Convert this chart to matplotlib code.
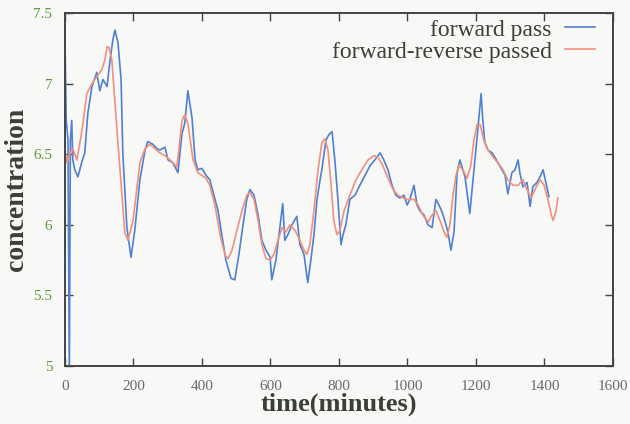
#!/usr/bin/env python3
# -*- coding: UTF-8 -*-
""" forward / forward-reverse filtered concentration plot """

import matplotlib
matplotlib.use("Agg")
import matplotlib.pyplot as plt
from matplotlib.ticker import FixedLocator, FixedFormatter

# forward pass (blue)
fwd_t = [1, 4, 9, 13, 16, 20, 23, 29, 38, 50, 58, 67, 79, 93, 102, 111, 123,
         131, 140, 146, 155, 164, 169, 181, 193, 204, 219, 234, 242, 257, 269,
         277, 292, 301, 315, 330, 342, 350, 359, 371, 380, 388, 400, 412, 423,
         435, 447, 458, 470, 485, 496, 508, 520, 531, 540, 552, 564, 575, 587,
         599, 604, 616, 625, 636, 642, 651, 663, 677, 686, 698, 709, 718, 727,
         736, 745, 750, 762, 771, 780, 788, 797, 806, 812, 820, 832, 847, 861,
         876, 891, 905, 920, 931, 943, 955, 966, 978, 990, 999, 1007, 1019,
         1028, 1036, 1048, 1060, 1072, 1083, 1092, 1101, 1109, 1118, 1127,
         1136, 1145, 1153, 1168, 1182, 1197, 1206, 1215, 1220, 1226, 1235,
         1247, 1255, 1264, 1276, 1285, 1293, 1305, 1314, 1323, 1328, 1337,
         1349, 1358, 1366, 1378, 1387, 1396, 1404, 1413]
fwd_v = [7.20, 6.74, 6.60, 4.90, 6.60, 6.74, 6.46, 6.39, 6.34, 6.45, 6.51,
         6.79, 6.98, 7.08, 6.95, 7.03, 6.98, 7.15, 7.31, 7.38, 7.29, 7.03,
         6.51, 5.98, 5.77, 5.96, 6.32, 6.53, 6.59, 6.57, 6.54, 6.53, 6.55,
         6.46, 6.44, 6.37, 6.65, 6.72, 6.95, 6.76, 6.46, 6.39, 6.40, 6.35,
         6.32, 6.21, 6.10, 5.93, 5.75, 5.62, 5.61, 5.79, 6.00, 6.18, 6.25,
         6.21, 6.07, 5.89, 5.82, 5.77, 5.61, 5.75, 5.93, 6.15, 5.89, 5.93,
         6.00, 6.06, 5.86, 5.79, 5.59, 5.75, 5.93, 6.18, 6.32, 6.39, 6.60,
         6.64, 6.66, 6.46, 6.18, 5.86, 5.93, 6.00, 6.18, 6.21, 6.28, 6.35,
         6.42, 6.46, 6.51, 6.46, 6.39, 6.28, 6.21, 6.19, 6.21, 6.14, 6.18,
         6.28, 6.14, 6.10, 6.07, 6.00, 5.98, 6.18, 6.14, 6.09, 6.03, 5.95,
         5.82, 5.95, 6.37, 6.46, 6.34, 6.08, 6.46, 6.69, 6.93, 6.74, 6.58,
         6.53, 6.51, 6.48, 6.44, 6.39, 6.35, 6.22, 6.37, 6.39, 6.46, 6.37,
         6.27, 6.30, 6.13, 6.27, 6.30, 6.34, 6.39, 6.30, 6.20]

# forward-reverse pass (red)
fr_t = [0, 6, 15, 23, 35, 50, 64, 79, 93, 108, 117, 123, 128, 137, 152, 166,
        175, 184, 199, 219, 234, 248, 263, 277, 292, 307, 327, 342, 350, 359,
        374, 388, 400, 412, 423, 438, 453, 467, 476, 488, 502, 517, 531, 540,
        552, 564, 575, 587, 599, 610, 622, 634, 645, 657, 672, 686, 698, 707,
        715, 727, 739, 750, 759, 768, 777, 785, 794, 803, 815, 832, 850, 867,
        885, 902, 914, 928, 943, 958, 972, 987, 1001, 1019, 1031, 1045, 1060,
        1072, 1083, 1095, 1107, 1115, 1124, 1133, 1142, 1150, 1162, 1174,
        1185, 1194, 1203, 1212, 1223, 1235, 1250, 1264, 1279, 1293, 1308,
        1323, 1337, 1349, 1361, 1372, 1387, 1399, 1410, 1419, 1425, 1434, 1439]
fr_v = [6.53, 6.44, 6.51, 6.54, 6.46, 6.67, 6.93, 7.00, 7.05, 7.10, 7.17,
        7.26, 7.26, 7.17, 6.67, 6.23, 5.94, 5.89, 6.03, 6.44, 6.54, 6.57,
        6.54, 6.51, 6.49, 6.46, 6.41, 6.74, 6.78, 6.72, 6.46, 6.37, 6.35,
        6.33, 6.28, 6.14, 5.93, 5.79, 5.76, 5.82, 5.96, 6.10, 6.21, 6.23,
        6.18, 6.03, 5.86, 5.76, 5.75, 5.79, 5.89, 5.98, 5.95, 6.00, 5.96,
        5.89, 5.82, 5.79, 5.86, 6.10, 6.39, 6.58, 6.61, 6.53, 6.28, 6.03,
        5.93, 5.96, 6.10, 6.21, 6.32, 6.39, 6.46, 6.49, 6.48, 6.42, 6.33,
        6.25, 6.21, 6.19, 6.18, 6.18, 6.14, 6.07, 6.02, 6.07, 6.10, 6.03,
        5.95, 5.91, 6.00, 6.21, 6.35, 6.42, 6.39, 6.33, 6.42, 6.60, 6.71,
        6.71, 6.60, 6.53, 6.48, 6.44, 6.39, 6.32, 6.28, 6.28, 6.32, 6.25,
        6.19, 6.25, 6.32, 6.28, 6.18, 6.08, 6.03, 6.10, 6.19]

x_ticks = [0, 200, 400, 600, 800, 1000, 1200, 1400, 1600]
y_ticks = [5, 5.5, 6, 6.5, 7, 7.5]
y_labels = ["5", "5.5", "6", "6.5", "7", "7.5"]

serif = ["Liberation Serif", "DejaVu Serif"]
paper = "#f8f8f6"
ink = "#3b3f3a"

fig = plt.figure(figsize=(6.3, 4.24), dpi=100, facecolor=paper)
ax = fig.add_axes([0.103, 0.137, 0.870, 0.832], facecolor=paper)

ax.plot(fwd_t, fwd_v, color="#4f80d4", lw=1.2, label="forward pass")
ax.plot(fr_t, fr_v, color="#f2907e", lw=1.2, label="forward-reverse passed")

ax.set_xlim(0, 1600)
ax.set_ylim(5, 7.5)
ax.xaxis.set_major_locator(FixedLocator(x_ticks))
ax.yaxis.set_major_locator(FixedLocator(y_ticks))
ax.yaxis.set_major_formatter(FixedFormatter(y_labels))
ax.tick_params(direction="in", length=6, width=1, color="#444444",
               top=True, right=True, labelsize=11)
ax.tick_params(axis="x", pad=10)
ax.tick_params(axis="y", pad=9)
for lab in ax.get_xticklabels():
    lab.set_family(serif)
    lab.set_color("#6a6a6a")
for lab in ax.get_yticklabels():
    lab.set_family(serif)
    lab.set_color("#5c9a3c")
for sp in ax.spines.values():
    sp.set_color("#444444")
    sp.set_linewidth(1.4)

ax.set_xlabel("time(minutes)", family=serif, fontweight="bold",
              fontsize=19, color=ink, labelpad=0)
ax.set_ylabel("concentration", family=serif, fontweight="bold",
              fontsize=20, color=ink, labelpad=3)

# two legend rows sit tight, as in the printed figure
leg = ax.legend(loc="upper right", frameon=False, markerfirst=False,
                prop={"family": serif, "size": 17}, labelspacing=0.02,
                handlelength=1.3, handletextpad=0.55,
                borderaxespad=0.0, bbox_to_anchor=(0.985, 1.01))
for t in leg.get_texts():
    t.set_color(ink)
    t.set_ha("right")

fig.savefig("out.png", dpi=100, facecolor=paper)
